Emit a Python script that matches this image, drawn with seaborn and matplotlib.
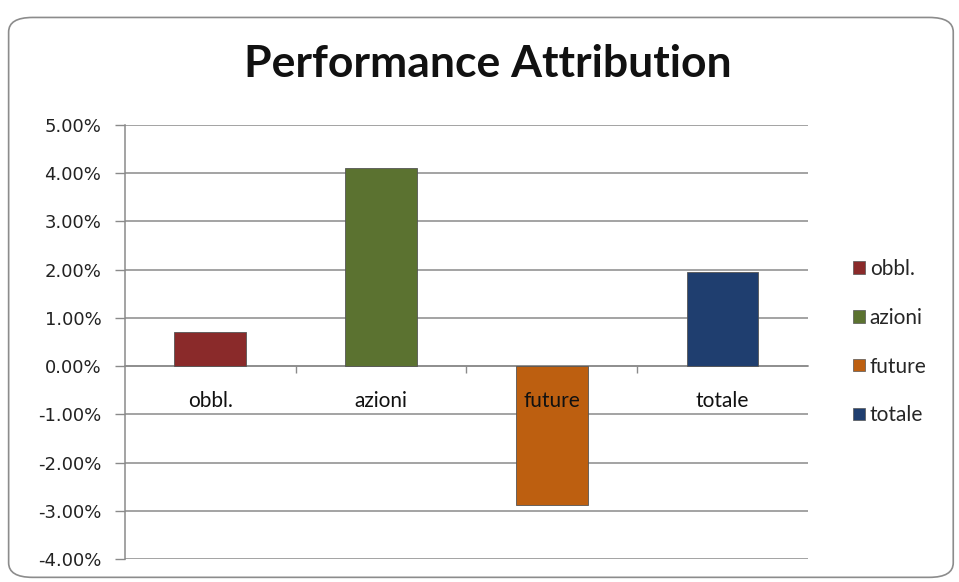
import numpy as np
import pandas as pd
import matplotlib
matplotlib.use("Agg")
import matplotlib.pyplot as plt
from matplotlib.patches import FancyBboxPatch, Patch
from matplotlib.ticker import FuncFormatter, MultipleLocator, FixedLocator
import seaborn as sns

# data
categories = ["obbl.", "azioni", "future", "totale"]
values = [0.70, 4.10, -2.87, 1.96]   # percent
colors = ["#8a2a2a", "#5b7230", "#bd5f10", "#1f3e6f"]

df = pd.DataFrame({"cat": categories, "val": values})

sns.set_style("white")
plt.rcParams["font.family"] = ["Lato", "DejaVu Sans"]

fig = plt.figure(figsize=(9.59, 5.82), dpi=100)
ax = fig.add_axes([0.1303, 0.0395, 0.712, 0.7457])

# rounded frame around the chart
frame = FancyBboxPatch((0.009, 0.008), 0.985, 0.962,
                       boxstyle="round,pad=0,rounding_size=0.025",
                       transform=fig.transFigure, facecolor="none",
                       edgecolor="#8c8c8c", linewidth=1.2, zorder=0)
fig.patches.append(frame)

sns.barplot(data=df, x="cat", y="val", hue="cat", palette=colors,
            saturation=1, width=0.42, dodge=False, legend=False, ax=ax,
            edgecolor="#555555", linewidth=0.6, zorder=3)

ax.set_ylim(-4, 5)
ax.set_xlim(-0.5, 3.5)
ax.yaxis.set_major_locator(MultipleLocator(1))
ax.yaxis.set_major_formatter(FuncFormatter(lambda v, p: f"{v:.2f}%"))
ax.grid(axis="y", color="#8a8a8a", linewidth=1.1, zorder=0)
ax.set_axisbelow(True)

for s in ["top", "right"]:
    ax.spines[s].set_visible(False)
ax.spines["left"].set_color("#8a8a8a")
ax.spines["left"].set_linewidth(1.1)
ax.spines["bottom"].set_position(("data", 0))
ax.spines["bottom"].set_color("#8a8a8a")
ax.spines["bottom"].set_linewidth(1.1)
ax.spines["bottom"].set_zorder(2)

ax.tick_params(axis="y", direction="out", length=7, width=1, color="#8a8a8a",
               labelsize=13, labelcolor="#222222", pad=10, left=True)
for lab in ax.get_yticklabels():
    lab.set_fontfamily("DejaVu Sans")

# category labels drawn above the bars, just under the zero line
ax.set_xticks(range(len(categories)))
ax.set_xticklabels([])
ax.tick_params(axis="x", which="major", length=0)
ax.xaxis.set_minor_locator(FixedLocator([0.5, 1.5, 2.5]))
ax.tick_params(axis="x", which="minor", direction="out", length=5, width=1,
               color="#8a8a8a", bottom=True)
for i, c in enumerate(categories):
    ax.annotate(c, xy=(i, 0), xytext=(0, -25), textcoords="offset points",
                ha="center", va="center", fontsize=15, color="#111111",
                zorder=6)
ax.set_xlabel("")
ax.set_ylabel("")

fig.text(0.509, 0.890, "Performance Attribution", ha="center", va="center",
         fontsize=32, fontweight="bold", color="#111111")

handles = [Patch(facecolor=c, edgecolor="#555555", linewidth=0.5) for c in colors]
fig.legend(handles, categories, loc="center left",
           bbox_to_anchor=(0.870, 0.412), frameon=False, fontsize=15,
           handlelength=0.55, handleheight=0.55, handletextpad=0.25,
           labelspacing=1.38)

fig.savefig("out.png", dpi=100)
